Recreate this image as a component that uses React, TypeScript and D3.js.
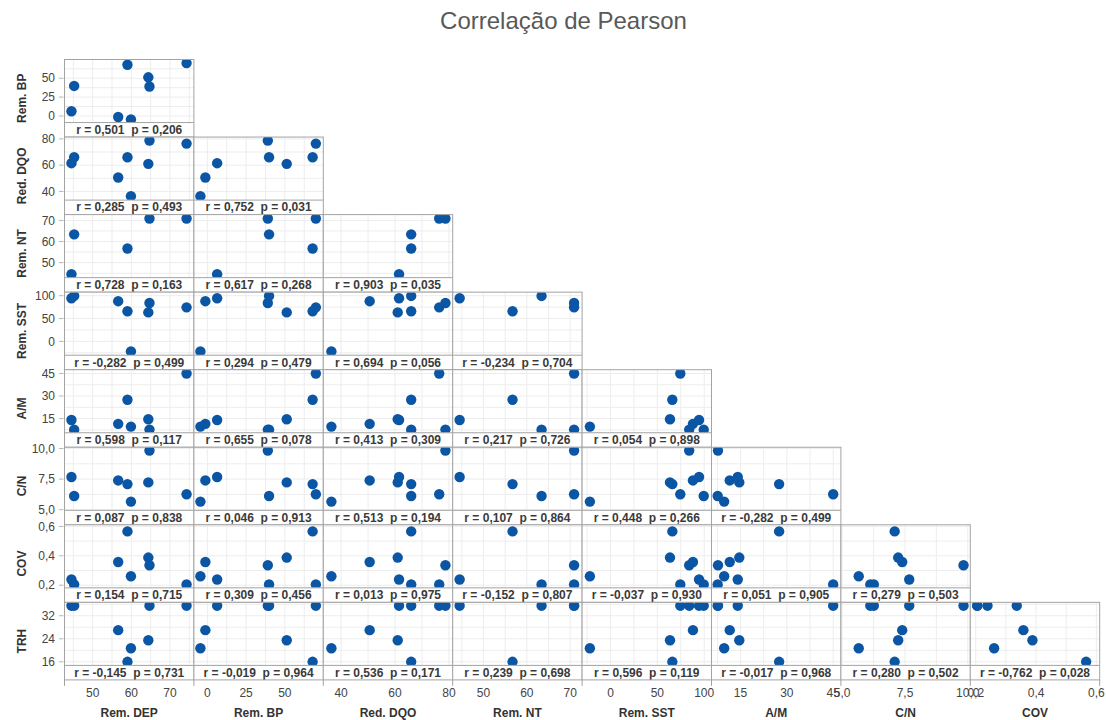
import React from "react";
import * as d3 from "d3";

// Variables of the matrix (columns use the first eight, rows the last eight)
const variableNames = ["Rem. DEP", "Rem. BP", "Red. DQO", "Rem. NT", "Rem. SST", "A/M", "C/N", "COV", "TRH"];

// One value per sample (8 samples), null = not measured
const remDEP = [44.5, 45.2, 56.6, 59.0, 59.9, 64.4, 64.7, 74.3];
const remBP = [6.3, 39.8, -1.3, 67.9, -4.5, 51.2, 39.0, 70.0];
const redDQO = [61.5, 66.0, 50.6, 66.0, 36.4, 61.0, 78.7, 76.4];
const remNT = [44.5, 63.4, null, 56.7, null, null, 70.9, 70.9];
const remSST = [94.5, 99.5, 88.0, 66.0, -22.0, 63.5, 84.0, 74.5];
const aM = [14.1, 7.6, 11.5, 27.5, 9.7, 14.6, 7.7, 45.0];
const cN = [7.67, 6.12, 7.39, 7.09, 5.66, 7.23, 9.83, 6.26];
const cov = [0.239, 0.205, 0.358, 0.566, 0.261, 0.388, 0.336, 0.205];
const trh = [35.5, 35.5, 27.0, 16.0, 20.7, 23.5, 35.5, 35.5];

const seriesList: (number | null)[][] = [remDEP, remBP, redDQO, remNT, remSST, aM, cN, cov, trh];

// Axis ranges and tick labels for each variable
const axisDomains: [number, number][] = [
  [42.7, 76.2], [-8.7, 74.8], [33.4, 81.4], [42.9, 72.75], [-30.3, 107.8],
  [5.6, 47.5], [4.95, 10.1], [0.182, 0.611], [14.75, 36.66],
];
const tickValues = [
  [50, 60, 70], [0, 25, 50], [40, 60, 80], [50, 60, 70], [0, 50, 100],
  [15, 30, 45], [5, 7.5, 10], [0.2, 0.4, 0.6], [16, 24, 32],
];
const tickDecimals = [0, 0, 0, 0, 0, 0, 1, 1, 0];

// Pearson r and p for each lower-triangle panel (row by row)
const rValues = [
  [0.501],
  [0.285, 0.752],
  [0.728, 0.617, 0.903],
  [-0.282, 0.294, 0.694, -0.234],
  [0.598, 0.655, 0.413, 0.217, 0.054],
  [0.087, 0.046, 0.513, 0.107, 0.448, -0.282],
  [0.154, 0.309, 0.013, -0.152, -0.037, 0.051, 0.279],
  [-0.145, -0.019, 0.536, 0.239, 0.596, -0.017, 0.280, -0.762],
];
const pValues = [
  [0.206],
  [0.493, 0.031],
  [0.163, 0.268, 0.035],
  [0.499, 0.479, 0.056, 0.704],
  [0.117, 0.078, 0.309, 0.726, 0.898],
  [0.838, 0.913, 0.194, 0.864, 0.266, 0.499],
  [0.715, 0.456, 0.975, 0.807, 0.930, 0.905, 0.503],
  [0.731, 0.964, 0.171, 0.698, 0.119, 0.968, 0.502, 0.028],
];

const W = 1106;
const H = 720;
const left = 64.5;
const top = 59.5;
const cellW = 129.4;
const cellH = 77.55;
const stripH = 14.5;
const plotH = cellH - stripH;
const nRows = 8;

const FONT = "'Liberation Sans', Arial, sans-serif";
const DOT = "#0b56a4";
const BORDER = "#a3a3a3";

const fmt = (v: number, d: number) => v.toFixed(d).replace(".", ",");

function gridValues(ticks: number[], domain: [number, number]) {
  const step = (ticks[1] - ticks[0]) / 2;
  const out: number[] = [];
  let v = ticks[0];
  while (v - step >= domain[0]) v -= step;
  for (; v <= domain[1] + 1e-9; v += step) out.push(+v.toFixed(6));
  return out;
}

function Panel({ row, col }: { row: number; col: number }) {
  const yi = row + 1;
  const xi = col;
  const x0 = left + col * cellW;
  const y0 = top + row * cellH;
  const x = d3.scaleLinear().domain(axisDomains[xi]).range([x0, x0 + cellW]);
  const y = d3.scaleLinear().domain(axisDomains[yi]).range([y0 + plotH, y0]);
  const xs = seriesList[xi];
  const ys = seriesList[yi];
  const pts = xs
    .map((v, k) => ({ a: v, b: ys[k] }))
    .filter((d) => d.a != null && d.b != null) as { a: number; b: number }[];
  const clipId = `clip-${row}-${col}`;
  const r = rValues[row][col];
  const p = pValues[row][col];
  const xg = gridValues(tickValues[xi], axisDomains[xi]);
  const yg = gridValues(tickValues[yi], axisDomains[yi]);
  return (
    <g>
      <defs>
        <clipPath id={clipId}>
          <rect x={x0} y={y0} width={cellW} height={plotH} />
        </clipPath>
      </defs>
      <rect x={x0} y={y0} width={cellW} height={cellH} fill="#fff" />
      <g clipPath={`url(#${clipId})`}>
        {xg.map((v) => (
          <line key={"gx" + v} x1={x(v)} x2={x(v)} y1={y0} y2={y0 + plotH} stroke="#ededed" strokeWidth={1} />
        ))}
        {yg.map((v) => (
          <line key={"gy" + v} x1={x0} x2={x0 + cellW} y1={y(v)} y2={y(v)} stroke="#ededed" strokeWidth={1} />
        ))}
        {pts.map((d, k) => (
          <circle key={k} cx={x(d.a)} cy={y(d.b)} r={5.2} fill={DOT} />
        ))}
      </g>
      <rect x={x0} y={y0 + plotH} width={cellW} height={stripH} fill="#fff" />
      <line x1={x0} x2={x0 + cellW} y1={y0 + plotH} y2={y0 + plotH} stroke={BORDER} strokeWidth={1} />
      <text
        x={x0 + cellW / 2}
        y={y0 + plotH + 11.3}
        textAnchor="middle"
        fontFamily={FONT}
        fontSize={12}
        fontWeight="bold"
        fill="#3a3a3a"
        xmlSpace="preserve"
        style={{ whiteSpace: "pre" }}
      >
        {`r = ${fmt(r, 3)}  p = ${fmt(p, 3)}`}
      </text>
      <rect x={x0} y={y0} width={cellW} height={cellH} fill="none" stroke={BORDER} strokeWidth={1} />
    </g>
  );
}

export default function App() {
  const panels: React.ReactNode[] = [];
  for (let row = 0; row < nRows; row++) {
    for (let col = 0; col <= row; col++) {
      panels.push(<Panel key={`${row}-${col}`} row={row} col={col} />);
    }
  }

  return (
    <div style={{ position: "fixed", left: 0, top: 0, width: W, height: H, background: "#fff" }}>
      <svg width={W} height={H} viewBox={`0 0 ${W} ${H}`}>
        <text x={563.5} y={29} textAnchor="middle" fontFamily={FONT} fontSize={24} fill="#595959">
          Correlação de Pearson
        </text>

        {panels}

        {/* Y axes (left of each row) */}
        {d3.range(nRows).map((row) => {
          const vi = row + 1;
          const y0 = top + row * cellH;
          const y = d3.scaleLinear().domain(axisDomains[vi]).range([y0 + plotH, y0]);
          return (
            <g key={"ya" + row}>
              {tickValues[vi].map((t) => (
                <g key={t}>
                  <line x1={59} x2={63.5} y1={y(t)} y2={y(t)} stroke="#b5b5b5" />
                  <text x={55} y={y(t)} dy="0.35em" textAnchor="end" fontFamily={FONT} fontSize={12} fill="#444">
                    {fmt(t, tickDecimals[vi])}
                  </text>
                </g>
              ))}
              <text
                transform={`translate(26, ${y0 + cellH / 2}) rotate(-90)`}
                textAnchor="middle"
                fontFamily={FONT}
                fontSize={12}
                fontWeight="bold"
                fill="#333"
              >
                {variableNames[vi]}
              </text>
            </g>
          );
        })}

        {/* X axes (below the bottom row) */}
        {d3.range(nRows).map((col) => {
          const x0 = left + col * cellW;
          const x = d3.scaleLinear().domain(axisDomains[col]).range([x0, x0 + cellW]);
          const yb = top + nRows * cellH;
          return (
            <g key={"xa" + col}>
              <line x1={x0} x2={x0} y1={yb} y2={yb + 6} stroke="#a3a3a3" />
              {col === nRows - 1 && <line x1={x0 + cellW} x2={x0 + cellW} y1={yb} y2={yb + 6} stroke="#a3a3a3" />}
              {tickValues[col].map((t) => (
                <text key={t} x={x(t)} y={yb + 17} textAnchor="middle" fontFamily={FONT} fontSize={12} fill="#444">
                  {fmt(t, tickDecimals[col])}
                </text>
              ))}
              <text x={x0 + cellW / 2} y={717} textAnchor="middle" fontFamily={FONT} fontSize={12} fontWeight="bold" fill="#333">
                {variableNames[col]}
              </text>
            </g>
          );
        })}
      </svg>
    </div>
  );
}
